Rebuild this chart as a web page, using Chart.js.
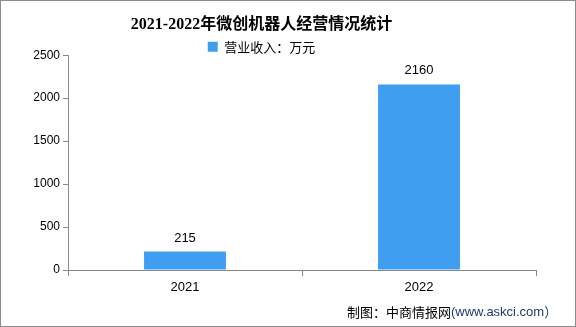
<!DOCTYPE html>
<html><head><meta charset="utf-8">
<script src="https://cdn.jsdelivr.net/npm/chart.js@4"></script>
<style>html,body{margin:0;padding:0;background:#fff}#wrap{width:576px;height:327px;position:relative}</style>
</head><body><div id="wrap"><canvas id="c" width="576" height="327"></canvas></div>
<script>
const categories = ["2021", "2022"];
const revenue = [215, 2160];
const yTicks = [0, 500, 1000, 1500, 2000, 2500];
const seriesName = "营业收入：万元";
const titleText = "2021-2022年微创机器人经营情况统计";

const extras = {
  id: 'extras',
  afterLayout(chart) {
    if (chart.titleBlock) { chart.titleBlock.right -= 13; }
    if (chart.legend) { chart.legend.right -= 13; }
  },
  afterDatasetsDraw(chart) {
    const ctx = chart.ctx;
    const meta = chart.getDatasetMeta(0);
    ctx.save();
    ctx.fillStyle = '#000';
    ctx.font = '13px "Liberation Sans", Arial, sans-serif';
    ctx.textAlign = 'center';
    ctx.textBaseline = 'bottom';
    meta.data.forEach((el, i) => {
      ctx.fillText(String(chart.data.datasets[0].data[i]), el.x, el.y - 7);
    });
    ctx.restore();
  },
  afterDraw(chart) {
    const ctx = chart.ctx;
    ctx.save();
    ctx.textBaseline = 'middle';
    ctx.textAlign = 'left';
    ctx.font = '13px "Noto Sans CJK SC", sans-serif';
    ctx.fillStyle = '#000';
    const s1 = '制图：中商情报网';
    const x0 = 347;
    ctx.fillText(s1, x0, 312);
    const w1 = ctx.measureText(s1).width;
    ctx.font = '13px "Liberation Sans", Arial, sans-serif';
    ctx.fillStyle = '#1f3a6e';
    ctx.fillText('(www.askci.com', x0 + w1, 312);
    const w2 = ctx.measureText('(www.askci.com').width;
    ctx.font = '13px "Noto Sans CJK SC", sans-serif';
    ctx.fillText('）', x0 + w1 + w2, 312);
    ctx.strokeStyle = '#8c8c8c';
    ctx.lineWidth = 1;
    ctx.strokeRect(0.5, 0.5, 575, 326);
    ctx.restore();
  }
};

new Chart(document.getElementById('c'), {
  type: 'bar',
  data: {
    labels: categories,
    datasets: [{
      label: seriesName,
      data: revenue,
      backgroundColor: '#409ef1',
      borderWidth: 0,
      categoryPercentage: 1,
      barPercentage: 0.35
    }]
  },
  options: {
    responsive: false,
    animation: false,
    devicePixelRatio: 1,
    layout: { padding: { left: 0, right: 40, top: 0, bottom: 0 } },
    plugins: {
      tooltip: { enabled: false },
      title: {
        display: true,
        text: titleText,
        color: '#000',
        font: { family: '"Liberation Serif", "Noto Sans CJK SC", serif', size: 16, weight: 'bold' },
        padding: { top: 15, bottom: 4 }
      },
      legend: {
        display: true,
        maxHeight: 17,
        labels: {
          color: '#000',
          boxWidth: 10, boxHeight: 10,
          padding: 2,
          font: { family: '"Noto Sans CJK SC", sans-serif', size: 13 }
        }
      }
    },
    scales: {
      x: {
        grid: { display: true, drawOnChartArea: false, offset: true, tickLength: 6, color: '#888' },
        border: { color: '#888', width: 1 },
        ticks: { color: '#000', font: { family: '"Liberation Sans", Arial, sans-serif', size: 13 }, padding: 4 },
        afterFit(s) { s.height = 57; }
      },
      y: {
        min: 0, max: 2500,
        afterBuildTicks(s) { s.ticks = yTicks.map(v => ({ value: v })); },
        grid: { display: true, drawOnChartArea: false, tickLength: 5, color: '#888' },
        border: { color: '#888', width: 1 },
        ticks: { color: '#000', font: { family: '"Liberation Sans", Arial, sans-serif', size: 12 }, padding: 3,
                 callback: (v) => String(v) },
        afterFit(s) { s.width = 68; }
      }
    }
  },
  plugins: [extras]
});
</script></body></html>
